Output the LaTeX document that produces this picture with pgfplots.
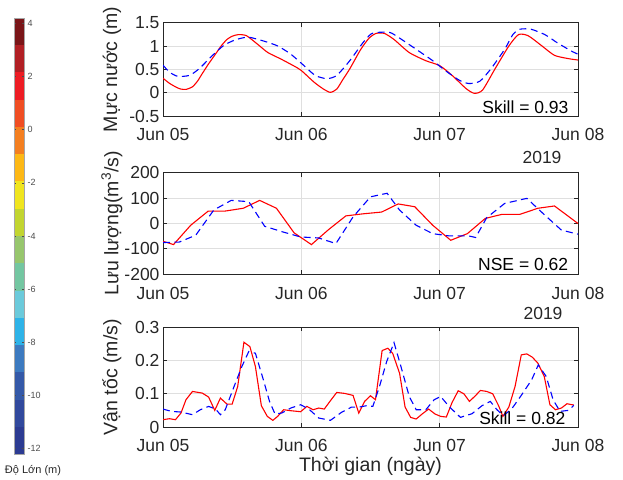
\documentclass[border=0pt]{standalone}
\usepackage{fontspec}
\setmainfont{Liberation Sans}
\usepackage{pgfplots}
\pgfplotsset{compat=1.18}
\definecolor{axgray}{HTML}{262626}
\definecolor{gridgray}{HTML}{DFDFDF}
\definecolor{cbA}{HTML}{2C3B92}
\definecolor{cbB}{HTML}{31499D}
\definecolor{cbC}{HTML}{3459A8}
\definecolor{cbD}{HTML}{3C7AC0}
\definecolor{cbE}{HTML}{2EB3E8}
\definecolor{cbF}{HTML}{6BCADB}
\definecolor{cbG}{HTML}{73C6A1}
\definecolor{cbH}{HTML}{97C66D}
\definecolor{cbI}{HTML}{C2D530}
\definecolor{cbJ}{HTML}{F0E51F}
\definecolor{cbK}{HTML}{FDB815}
\definecolor{cbL}{HTML}{F47F20}
\definecolor{cbM}{HTML}{F04E23}
\definecolor{cbN}{HTML}{ED1C24}
\definecolor{cbO}{HTML}{B11F24}
\definecolor{cbP}{HTML}{7A1518}
\pgfplotsset{
  panel/.style={
    scale only axis, width=415pt,
    xmin=0, xmax=3,
    xtick={0,1,2,3}, xticklabels={Jun 05,Jun 06,Jun 07,Jun 08},
    grid=major, major grid style={gridgray, line width=0.8pt},
    axis line style={axgray, line width=0.8pt},
    tick style={axgray, line width=0.8pt},
    tick align=inside, tick pos=both, major tick length=4pt,
    ticklabel style={font=\fontsize{17.5pt}{20pt}\selectfont, text=axgray},
    xticklabel style={yshift=-9pt},
    /pgf/number format/assume math mode=true,
    label style={font=\fontsize{19.5pt}{22pt}\selectfont, text=axgray},
    y label style={at={(axis description cs:-0.123,0.5)}, anchor=center},
  },
  obs/.style={red, line width=1.1pt},
  sim/.style={blue, line width=1.1pt, dash pattern=on 7pt off 4.5pt},
  cband/.style={draw=none, fill=#1},
}
\newcommand{\statfont}{\fontsize{17.5pt}{20pt}\selectfont}
\begin{document}
\begin{tikzpicture}
\useasboundingbox (0,0) rectangle (623pt,479pt);

% colorbar
\begin{axis}[at={(14pt,25pt)}, anchor=south west, scale only axis,
  width=10pt, height=436pt, xmin=0, xmax=1, ymin=-12.2, ymax=4.2,
  xtick=\empty, ytick={-12,-10,...,4}, yticklabel pos=right,
  tick align=inside, major tick length=2pt, axis on top,
  axis line style={gray!70, line width=0.5pt}, tick style={black!70, line width=0.5pt},
  ticklabel style={font=\fontsize{9pt}{10pt}\selectfont, text=black!70},
  /pgf/number format/assume math mode=true]
\addplot[cband=cbA] coordinates {(0,-12.2) (1,-12.2) (1,-11.175) (0,-11.175)};
\addplot[cband=cbB] coordinates {(0,-11.175) (1,-11.175) (1,-10.15) (0,-10.15)};
\addplot[cband=cbC] coordinates {(0,-10.15) (1,-10.15) (1,-9.125) (0,-9.125)};
\addplot[cband=cbD] coordinates {(0,-9.125) (1,-9.125) (1,-8.1) (0,-8.1)};
\addplot[cband=cbE] coordinates {(0,-8.1) (1,-8.1) (1,-7.075) (0,-7.075)};
\addplot[cband=cbF] coordinates {(0,-7.075) (1,-7.075) (1,-6.05) (0,-6.05)};
\addplot[cband=cbG] coordinates {(0,-6.05) (1,-6.05) (1,-5.025) (0,-5.025)};
\addplot[cband=cbH] coordinates {(0,-5.025) (1,-5.025) (1,-4.0) (0,-4.0)};
\addplot[cband=cbI] coordinates {(0,-4.0) (1,-4.0) (1,-2.975) (0,-2.975)};
\addplot[cband=cbJ] coordinates {(0,-2.975) (1,-2.975) (1,-1.95) (0,-1.95)};
\addplot[cband=cbK] coordinates {(0,-1.95) (1,-1.95) (1,-0.925) (0,-0.925)};
\addplot[cband=cbL] coordinates {(0,-0.925) (1,-0.925) (1,0.1) (0,0.1)};
\addplot[cband=cbM] coordinates {(0,0.1) (1,0.1) (1,1.125) (0,1.125)};
\addplot[cband=cbN] coordinates {(0,1.125) (1,1.125) (1,2.15) (0,2.15)};
\addplot[cband=cbO] coordinates {(0,2.15) (1,2.15) (1,3.175) (0,3.175)};
\addplot[cband=cbP] coordinates {(0,3.175) (1,3.175) (1,4.2) (0,4.2)};
\end{axis}
\node[font=\fontsize{11pt}{12pt}\selectfont, text=axgray] at (33pt,8pt) {Độ Lớn (m)};

% panel 1: water level
\begin{axis}[panel, at={(163pt,363pt)}, anchor=south west, height=93.3pt,
  ymin=-0.5, ymax=1.5, ytick={-0.5,0,0.5,1,1.5},
  ylabel={Mực nước (m)}]
\addplot[obs, smooth, tension=0.4] coordinates {
(0,0.31) (0.047,0.20) (0.10,0.11) (0.13,0.077) (0.166,0.07) (0.213,0.126) (0.25,0.25)
(0.284,0.41) (0.33,0.62) (0.379,0.825) (0.42,1.0) (0.462,1.14) (0.50,1.21) (0.545,1.245)
(0.604,1.22) (0.687,1.03) (0.758,0.86) (0.853,0.72) (0.948,0.57) (1.0,0.475) (1.09,0.23)
(1.16,0.077) (1.21,0.007) (1.256,0.077) (1.30,0.28) (1.35,0.51) (1.43,0.93) (1.49,1.17)
(1.54,1.27) (1.60,1.27) (1.67,1.14) (1.78,0.86) (1.90,0.685) (2.0,0.58) (2.09,0.37)
(2.19,0.09) (2.25,-0.014) (2.31,0.056) (2.40,0.51) (2.50,1.0) (2.57,1.245) (2.64,1.22)
(2.74,1.0) (2.83,0.80) (2.93,0.73) (3.0,0.70)};
\addplot[sim, smooth, tension=0.4] coordinates {
(0,0.59) (0.047,0.44) (0.107,0.35) (0.19,0.37) (0.26,0.51) (0.355,0.79) (0.438,1.01)
(0.521,1.13) (0.616,1.19) (0.735,1.10) (0.83,1.0) (0.924,0.825) (1.019,0.58) (1.10,0.37)
(1.185,0.30) (1.256,0.37) (1.35,0.685) (1.445,1.07) (1.50,1.25) (1.54,1.29) (1.64,1.29)
(1.71,1.17) (1.83,0.93) (1.95,0.685) (2.04,0.475) (2.14,0.27) (2.21,0.196) (2.29,0.245)
(2.37,0.51) (2.47,0.93) (2.53,1.25) (2.58,1.36) (2.66,1.36) (2.76,1.245) (2.85,1.07)
(2.95,0.895) (3.0,0.825)};
\node[anchor=base east, font=\statfont, text=black] at (rel axis cs:0.9855,0.032) {Skill = 0.93};
\end{axis}
\node[font=\statfont, text=axgray] at (542pt,322pt) {2019};

% panel 2: discharge
\begin{axis}[panel, at={(163pt,204.7pt)}, anchor=south west, height=101.6pt,
  ymin=-200, ymax=200, ytick={-200,-100,0,100,200},
  ylabel={Lưu lượng(m\textsuperscript{3}/s)}]
\addplot[obs] coordinates {
(0,-70) (0.076,-83) (0.20,-7) (0.327,49) (0.45,49) (0.58,60) (0.699,91) (0.82,60)
(0.948,-37) (1.073,-83) (1.197,-24) (1.322,30) (1.445,38) (1.58,45) (1.70,77) (1.82,66)
(1.95,-7) (2.08,-66) (2.20,-40) (2.33,20) (2.45,36) (2.58,36) (2.71,60) (2.83,69) (3.0,0)};
\addplot[sim] coordinates {
(0,-75) (0.118,-73) (0.237,-46) (0.367,53) (0.493,91) (0.62,86) (0.735,-11) (0.865,-33)
(0.995,-53) (1.125,-57) (1.25,-79) (1.374,26) (1.50,105) (1.62,119) (1.71,53) (1.83,-7)
(1.95,-40) (2.07,-49) (2.21,-49) (2.26,-55) (2.34,23) (2.47,79) (2.63,99) (2.76,33)
(2.88,-26) (3.0,-42)};
\node[anchor=base east, font=\statfont, text=black] at (rel axis cs:0.9848,0.035) {NSE = 0.62};
\end{axis}
\node[font=\statfont, text=axgray] at (543pt,165.5pt) {2019};

% panel 3: velocity
\begin{axis}[panel, at={(163pt,52pt)}, anchor=south west, height=99.7pt,
  ymin=0, ymax=0.3, ytick={0,0.1,0.2,0.3},
  ylabel={Vận tốc (m/s)}, xlabel={Thời gian (ngày)},
  x label style={at={(axis description cs:0.5,0)}, yshift=-39pt, anchor=center}]
\addplot[obs] coordinates {
(0,0.022) (0.047,0.025) (0.09,0.022) (0.13,0.042) (0.166,0.082) (0.213,0.107) (0.284,0.102)
(0.33,0.09) (0.374,0.05) (0.415,0.087) (0.462,0.069) (0.50,0.069) (0.54,0.122) (0.585,0.255)
(0.628,0.242) (0.668,0.182) (0.711,0.064) (0.754,0.032) (0.794,0.02) (0.829,0.032)
(0.872,0.052) (0.924,0.049) (0.995,0.046) (1.04,0.062) (1.085,0.052) (1.126,0.057)
(1.166,0.054) (1.21,0.079) (1.256,0.104) (1.315,0.101) (1.374,0.095) (1.415,0.042)
(1.457,0.077) (1.50,0.094) (1.536,0.082) (1.584,0.23) (1.625,0.237) (1.66,0.222)
(1.71,0.162) (1.75,0.06) (1.79,0.029) (1.83,0.024) (1.876,0.04) (1.92,0.054) (1.967,0.039)
(2.007,0.032) (2.048,0.03) (2.09,0.074) (2.134,0.109) (2.175,0.1) (2.215,0.077)
(2.258,0.094) (2.294,0.11) (2.34,0.107) (2.383,0.1) (2.426,0.064) (2.457,0.032) (2.50,0.06)
(2.545,0.122) (2.59,0.217) (2.63,0.22) (2.67,0.21) (2.71,0.192) (2.756,0.152) (2.797,0.067)
(2.837,0.052) (2.88,0.057) (2.92,0.07) (2.97,0.066)};
\addplot[sim] coordinates {
(0,0.054) (0.06,0.047) (0.13,0.045) (0.213,0.037) (0.27,0.052) (0.33,0.062) (0.38,0.054)
(0.415,0.037) (0.45,0.052) (0.50,0.107) (0.57,0.182) (0.62,0.227) (0.668,0.222) (0.722,0.147)
(0.77,0.077) (0.81,0.039) (0.858,0.042) (0.924,0.057) (0.995,0.067) (1.054,0.054)
(1.126,0.027) (1.21,0.02) (1.29,0.044) (1.363,0.06) (1.42,0.06) (1.47,0.064) (1.517,0.062)
(1.565,0.122) (1.617,0.197) (1.67,0.254) (1.72,0.182) (1.78,0.092) (1.83,0.052) (1.90,0.052)
(1.96,0.082) (2.007,0.092) (2.067,0.062) (2.15,0.029) (2.234,0.04) (2.306,0.064)
(2.366,0.077) (2.414,0.052) (2.46,0.034) (2.52,0.054) (2.593,0.097) (2.665,0.142)
(2.713,0.187) (2.77,0.152) (2.82,0.082) (2.87,0.047) (2.93,0.05) (2.97,0.065)};
\node[anchor=base east, font=\statfont, text=black] at (rel axis cs:0.978,0.03) {Skill = 0.82};
\end{axis}
\end{tikzpicture}
\end{document}
